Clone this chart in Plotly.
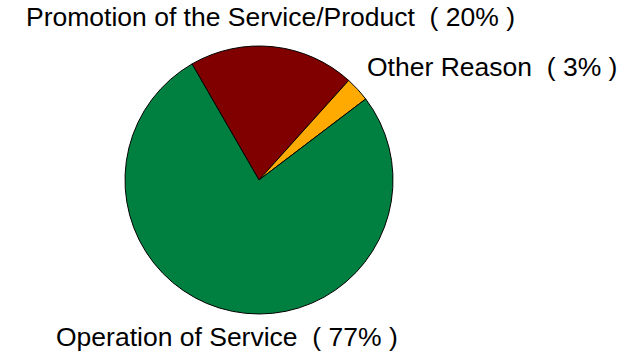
import plotly.graph_objects as go

# Reasons and their shares (percent)
labels = ["Promotion of the Service/Product", "Other Reason", "Operation of Service"]
values = [20, 3, 77]
colors = ["#800000", "#FFAA00", "#008040"]

# Caption anchor positions (paper coordinates) for each slice
label_x = [0.0374, 0.5685, 0.0841]
label_y = [0.951, 0.8137, 0.056]

W, H = 642, 357
cx, cy, r = 259, 180, 134

fig = go.Figure(
    go.Pie(
        labels=labels,
        values=values,
        sort=False,
        direction="clockwise",
        rotation=-30,
        marker=dict(colors=colors, line=dict(color="#000000", width=1)),
        textinfo="none",
        hoverinfo="label+percent",
        domain=dict(
            x=[(cx - r) / W, (cx + r) / W],
            y=[(H - cy - r) / H, (H - cy + r) / H],
        ),
        showlegend=False,
    )
)

for lab, val, x, y in zip(labels, values, label_x, label_y):
    fig.add_annotation(
        text=f"{lab}  ( {val}% )",
        x=x, y=y, xref="paper", yref="paper",
        xanchor="left", yanchor="middle",
        showarrow=False,
        font=dict(family="Liberation Sans, Arial, sans-serif", size=26.5, color="#000000"),
    )

fig.update_layout(
    width=W, height=H,
    margin=dict(l=0, r=0, t=0, b=0),
    paper_bgcolor="#FFFFFF",
    plot_bgcolor="#FFFFFF",
)

fig.write_html("out.html")
